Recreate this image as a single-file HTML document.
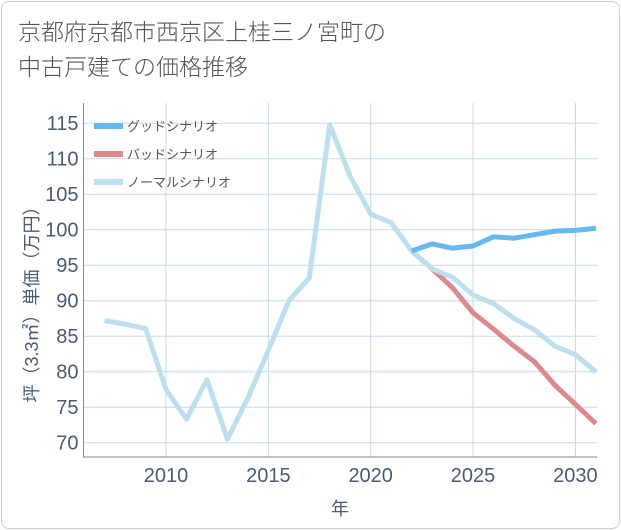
<!DOCTYPE html>
<html><head><meta charset="utf-8"><style>
body{margin:0;background:#fff;font-family:"Liberation Sans","Noto Sans CJK JP",sans-serif}
.card{position:absolute;left:1px;top:1px;width:617px;height:526px;border:1px solid #ccc;border-radius:8px;background:#fff}
.title{position:absolute;left:18px;top:13px;font-size:23px;line-height:35px;color:#555;font-weight:300;font-family:"Noto Sans CJK JP",sans-serif}
svg text{font-family:"Liberation Sans","Noto Sans CJK JP",sans-serif}
</style></head><body>
<div class="card"></div>
<div class="title">京都府京都市西京区上桂三ノ宮町の<br>中古戸建ての価格推移</div>
<svg id="c" width="621" height="530" style="position:absolute;left:0;top:0"></svg>
<script>
const years=[2007,2008,2009,2010,2011,2012,2013,2014,2015,2016,2017,2018,2019,2020,2021,2022,2023,2024,2025,2026,2027,2028,2029,2030,2031];
const normal=[87.2,86.7,86.1,77.5,73.3,78.9,70.5,76.3,83,90,93.2,114.8,107.5,102.2,101,97,94.5,93.3,90.8,89.6,87.5,85.9,83.6,82.4,80];
const futYears=[2022,2023,2024,2025,2026,2027,2028,2029,2030,2031];
const good=[97,98,97.4,97.7,99,98.8,99.3,99.8,99.9,100.2];
const bad=[97,94.5,91.8,88.3,86,83.6,81.4,78.1,75.4,72.7];
const yTicks=[70,75,80,85,90,95,100,105,110,115];
const xTicks=[2010,2015,2020,2025,2030];
const L=83.5,R=597,T=103,B=457;
const X=y=>166+(y-2010)*20.47;
const Y=v=>442.7-(v-70)*7.1;
const s=document.getElementById('c'),NS='http://www.w3.org/2000/svg';
function el(t,a,txt){const e=document.createElementNS(NS,t);for(const k in a)e.setAttribute(k,a[k]);if(txt!=null)e.textContent=txt;s.appendChild(e);return e;}
yTicks.forEach(v=>{const g=el('line',{x1:L,x2:R,y1:Y(v),y2:Y(v),stroke:'#c9d9e8','stroke-width':1});

const t=el('text',{x:L-5,y:Y(v)+7,'text-anchor':'end','font-size':20,fill:'#4a5b72'},v);
});
xTicks.forEach(v=>{const g=el('line',{x1:X(v),x2:X(v),y1:T,y2:B,stroke:'#c9d9e8','stroke-width':1});

const t=el('text',{x:X(v),y:B+25,'text-anchor':'middle','font-size':20,fill:'#4a5b72'},v);
});
const ax=el('path',{d:`M${L} ${T}V${B}H${R}`,fill:'none',stroke:'#888','stroke-width':1});

const xt=el('text',{x:340,y:515,'text-anchor':'middle','font-size':18,fill:'#4a5b72'},'年');

const yt=el('text',{x:0,y:0,'text-anchor':'middle','font-size':18,fill:'#4a5b72',transform:'translate(38,300) rotate(-90)'},'坪（3.3㎡）単価（万円）');

function line(xs,vs,c,n){const p=el('polyline',{points:xs.map((x,i)=>X(x)+','+Y(vs[i])).join(' '),fill:'none',stroke:c,'stroke-width':5,'stroke-linejoin':'round'});
}
line(futYears,bad,'#de8890','bad-scenario-line');
line(years,normal,'#bde0ef','normal-scenario-line');
line(futYears,good,'#66b8f0','good-scenario-line');
[['グッドシナリオ','#66b8f0'],['バッドシナリオ','#de8890'],['ノーマルシナリオ','#bde0ef']].forEach((e,i)=>{
const y=126+i*28;
const r=el('rect',{x:94,y:y-3,width:29,height:6,fill:e[1]});

const t=el('text',{x:127,y:y+5,'font-size':13,fill:'#555'},e[0]);
});
</script>
</body></html>
